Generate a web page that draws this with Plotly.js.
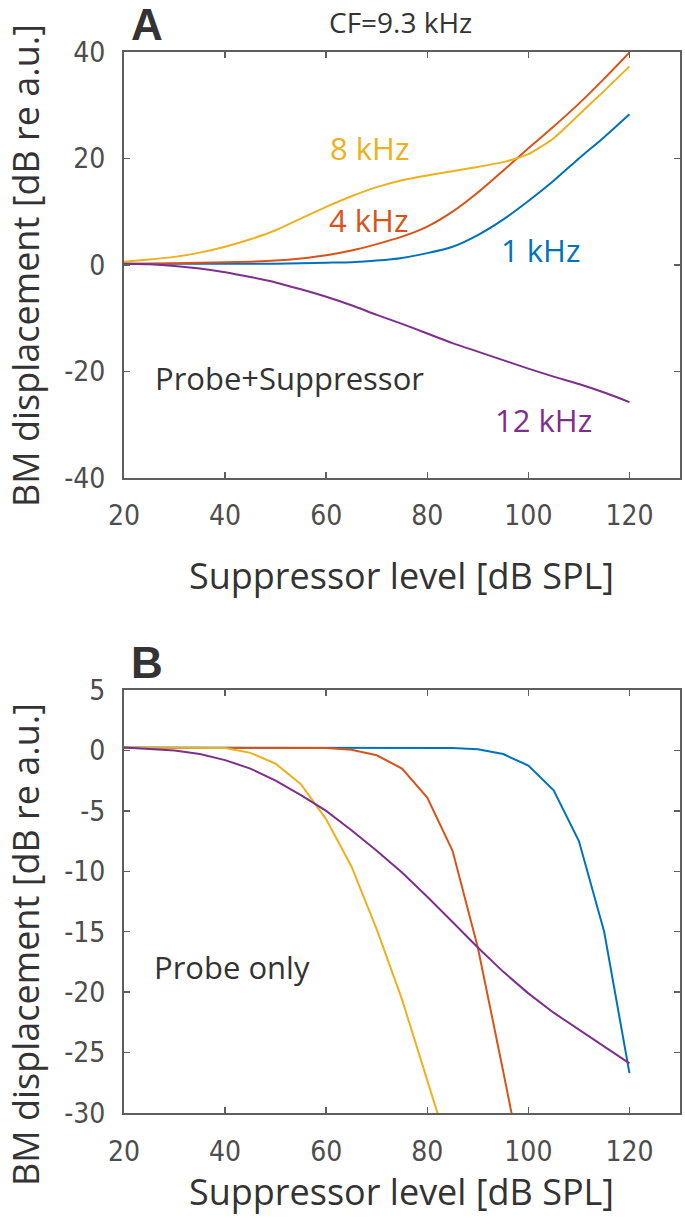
<!DOCTYPE html>
<html>
<head>
<meta charset="utf-8">
<script src="https://cdn.plot.ly/plotly-3.0.1.min.js"></script>
<style>
html,body{margin:0;padding:0;background:#fff;}
#chart{width:685px;height:1232px;}
</style>
</head>
<body>
<div id="chart"></div>
<script>
// Suppressor level (dB SPL)
const levels = [20,25,30,35,40,45,50,55,60,65,70,75,80,85,90,95,100,105,110,115,120];

// Panel A: Probe+Suppressor (dB re a.u.)
const a_1kHz  = [0.2,0.2,0.2,0.2,0.2,0.2,0.2,0.3,0.4,0.5,0.8,1.3,2.2,3.4,5.6,8.5,12.0,15.8,20.0,24.0,28.3];
const a_4kHz  = [0.2,0.2,0.3,0.4,0.5,0.6,0.8,1.2,1.8,2.7,3.9,5.3,7.2,10.0,13.6,17.7,21.9,26.0,30.3,35.0,39.9];
const a_8kHz  = [0.6,1.0,1.5,2.3,3.4,4.8,6.5,8.7,10.9,12.9,14.6,15.9,16.8,17.6,18.4,19.3,20.8,23.8,28.2,32.7,37.3];
const a_12kHz = [0.2,0.1,-0.2,-0.7,-1.4,-2.3,-3.3,-4.6,-6.0,-7.6,-9.4,-11.1,-12.9,-14.7,-16.3,-17.9,-19.5,-21.0,-22.4,-24.0,-25.8];

// Panel B: Probe only (dB re a.u.)
const b_1kHz  = [0.25,0.25,0.25,0.25,0.25,0.25,0.25,0.25,0.25,0.25,0.25,0.25,0.25,0.2,0.1,-0.3,-1.25,-3.3,-7.5,-15.0,-26.7];
const b_4kHz  = [0.2,0.2,0.2,0.2,0.2,0.2,0.2,0.2,0.2,0.05,-0.4,-1.5,-3.9,-8.3,-16.3,-26.5,-37.0];
const b_8kHz  = [0.25,0.25,0.25,0.25,0.2,-0.2,-1.1,-2.8,-5.7,-9.6,-14.8,-20.6,-27.3,-34.0];
const b_12kHz = [0.25,0.15,0.0,-0.3,-0.8,-1.5,-2.5,-3.7,-5.0,-6.6,-8.3,-10.1,-12.1,-14.2,-16.3,-18.3,-20.1,-21.7,-23.1,-24.5,-25.9];

const xTicks = [20,40,60,80,100,120];
const yTicksA = [-40,-20,0,20,40];
const yTicksB = [-30,-25,-20,-15,-10,-5,0,5];

const C1 = '#0072BD', C4 = '#D95319', C8 = '#EDB120', C12 = '#7E2F8E';

const W = 685, H = 1232;
const M = {l:124, r:5, t:52, b:119};
const PW = W - M.l - M.r, PH = H - M.t - M.b;
const px = x => (x - M.l) / PW;
const py = y => (H - M.b - y) / PH;

const lw = 2;
function tr(x, y, color, xa, ya, shape) {
  return {x: x.slice(0, y.length), y: y, type:'scatter', mode:'lines', xaxis:xa, yaxis:ya,
    line:{color:color, width:lw, shape:shape||'linear', smoothing:0.6}, hoverinfo:'skip', showlegend:false};
}

const data = [
  tr(levels, a_1kHz, C1, 'x', 'y', 'spline'),
  tr(levels, a_4kHz, C4, 'x', 'y', 'spline'),
  tr(levels, a_8kHz, C8, 'x', 'y', 'spline'),
  tr(levels, a_12kHz, C12, 'x', 'y', 'spline'),
  tr(levels, b_1kHz, C1, 'x2', 'y2'),
  tr(levels, b_4kHz, C4, 'x2', 'y2'),
  tr(levels, b_8kHz, C8, 'x2', 'y2'),
  tr(levels, b_12kHz, C12, 'x2', 'y2')
];

const tickFont = {family:'"Liberation Sans Narrow", "DejaVu Sans Condensed", "Arial Narrow", sans-serif', size:28, color:'#4d4d4d'};
const textFam = '"Open Sans", "Noto Sans", sans-serif';
const axCol = '#5f5f5f';

function xax(anchor) {
  return {domain:[0,1], anchor:anchor, range:[20,130], tickvals:xTicks, ticktext:xTicks.map(String),
    ticks:'inside', ticklen:6, tickwidth:1.5, tickcolor:axCol, mirror:'ticks', showline:true, linecolor:axCol, linewidth:2,
    showgrid:false, zeroline:false, tickfont:tickFont, ticklabelstandoff:12, fixedrange:true};
}
function yax(anchor, dom, range, tv) {
  return {domain:dom, anchor:anchor, range:range, tickvals:tv, ticktext:tv.map(String),
    ticks:'inside', ticklen:6, tickwidth:1.5, tickcolor:axCol, mirror:'ticks', showline:true, linecolor:axCol, linewidth:2,
    showgrid:false, zeroline:false, tickfont:tickFont, ticklabelstandoff:11, fixedrange:true};
}

const ann = (text, x, y, size, color, extra) => Object.assign({text:text, xref:'paper', yref:'paper', x:px(x), y:py(y),
  xanchor:'center', yanchor:'middle', showarrow:false, font:{family:textFam, size:size, color:color}}, extra||{});

const boldFont = {family:'"Liberation Sans", Arial, sans-serif', size:44, color:'#333'};

const annotations = [
  ann('<b>A</b>', 147, 24, 44, '#333', {font:boldFont}),
  ann('<b>B</b>', 147, 662, 44, '#333', {font:boldFont}),
  ann('CF=9.3 kHz', 400, 22, 28, '#333'),
  ann('8 kHz', 369, 148, 31, C8),
  ann('4 kHz', 368, 220, 31, C4),
  ann('1 kHz', 540, 250, 31, C1),
  ann('12 kHz', 543, 420, 31, C12),
  ann('Probe+Suppressor', 289, 378, 31, '#333'),
  ann('Probe only', 232, 967, 31, '#333'),
  ann('Suppressor level [dB SPL]', 401, 575, 36, '#333'),
  ann('Suppressor level [dB SPL]', 401, 1191, 36, '#333'),
  ann('BM displacement [dB re a.u.]', 25, 266, 36, '#333', {textangle:-90}),
  ann('BM displacement [dB re a.u.]', 25, 945, 36, '#333', {textangle:-90})
];

const layout = {
  width:W, height:H, margin:M, paper_bgcolor:'#fff', plot_bgcolor:'#fff', showlegend:false,
  xaxis: xax('y'),
  yaxis: yax('x', [py(477.7), 1], [-40,40], yTicksA),
  xaxis2: xax('y2'),
  yaxis2: yax('x2', [0, py(690)], [-30,5], yTicksB),
  annotations: annotations
};

Plotly.newPlot('chart', data, layout, {displayModeBar:false, staticPlot:true});
</script>
</body>
</html>
